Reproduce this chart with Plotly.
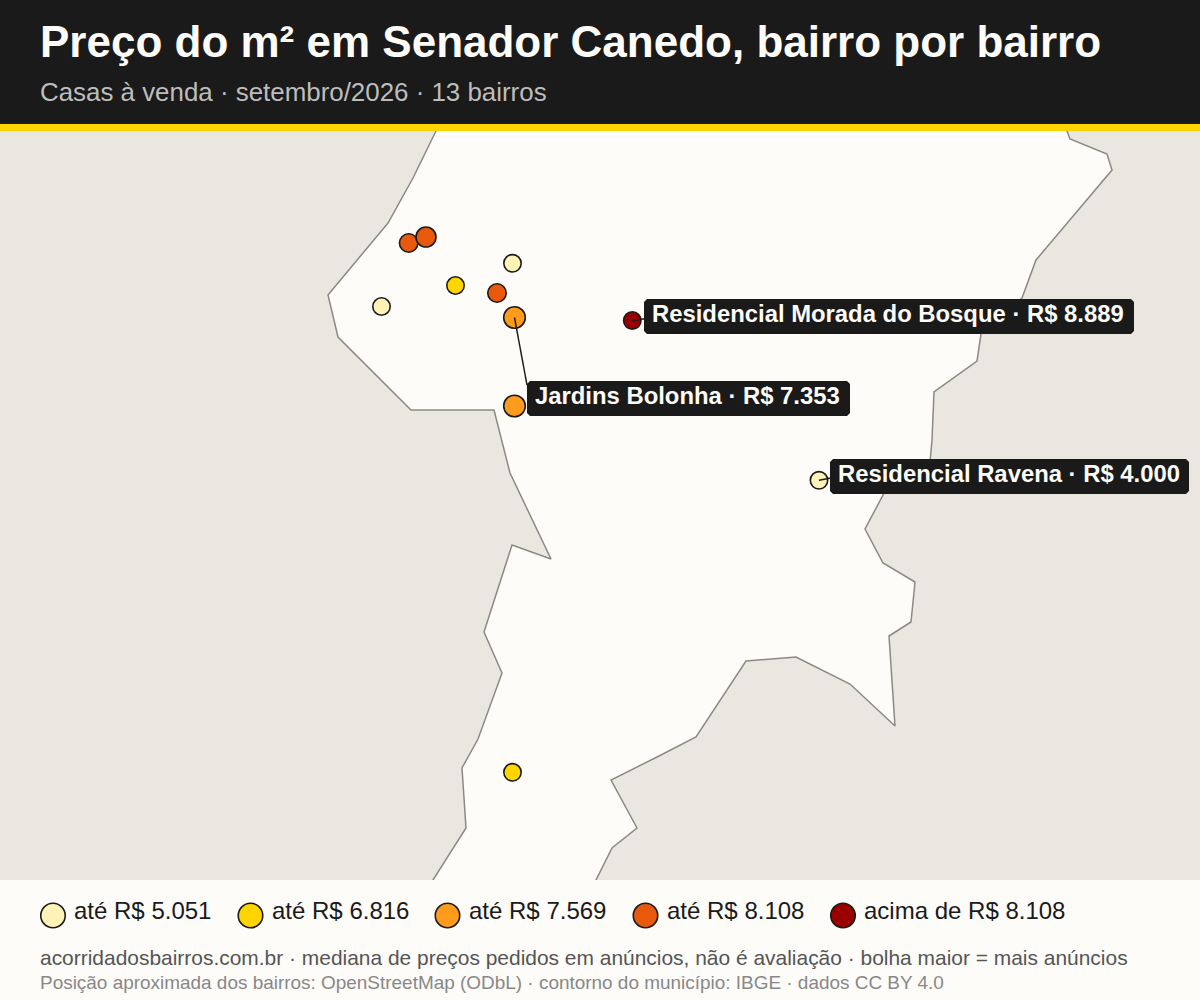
#!/usr/bin/env python3
# -*- coding: utf-8 -*-
import plotly.graph_objects as go

# contorno do municipio (coordenadas do mapa)
contorno_x = [441, 436, 413, 388, 328, 338, 411, 494, 510, 537, 551, 512, 484, 502, 478, 462, 466, 433, 425,
              590, 596, 612, 637, 611, 659, 696, 746, 796, 850, 895, 889, 911, 915, 883, 865, 891, 930, 932, 934,
              977, 981, 1022, 1036, 1112, 1107, 1070, 1067, 1062]
contorno_y = [120, 131, 178, 223, 295, 337, 410, 410, 473, 530, 559, 545, 632, 673, 739, 768, 828, 880, 892,
              892, 880, 848, 828, 780, 756, 737, 661, 657, 684, 726, 636, 622, 582, 563, 529, 480, 462, 440, 392,
              361, 334, 298, 260, 170, 154, 139, 131, 120]

# bairros
bairro_x = [408.7, 426, 512.5, 455.5, 497, 381.5, 514.5, 632.3, 514.5, 819, 512.5]
bairro_y = [243, 237, 263.3, 285.5, 293, 306.5, 317.5, 320.5, 406, 480.3, 772.3]
bairro_faixa = [3, 3, 0, 1, 3, 0, 2, 4, 2, 0, 1]
bairro_anuncios = [77, 90, 68, 68, 77, 68, 105, 68, 105, 68, 68]

# faixas de preco
faixa_nomes = ["até R$ 5.051", "até R$ 6.816", "até R$ 7.569", "até R$ 8.108", "acima de R$ 8.108"]
faixa_cores = ["#FFF3B8", "#FFD500", "#FE9A1C", "#E8590C", "#9B0000"]
legenda_x = [53, 250.5, 447.5, 645.5, 843]
legenda_y = [915.5, 915.5, 915.5, 915.5, 915.5]

# rotulos em destaque
rotulo_textos = ["Residencial Morada do Bosque · R$ 8.889", "Jardins Bolonha · R$ 7.353", "Residencial Ravena · R$ 4.000"]
rotulo_ponto_x = [632.3, 514.5, 819]
rotulo_ponto_y = [320.5, 317.5, 480.3]
rotulo_fim_x = [645, 527, 831]
rotulo_fim_y = [318.7, 385, 478]
rotulo_caixa = [[644, 1134, 299, 334], [527, 850, 381, 416], [830, 1189, 459, 494]]

escuro = "#1A1A1A"
papel = "#FDFCF9"
terra = "#EAE7E0"
fonte = "Liberation Sans"

fig = go.Figure()

# municipio
fig.add_trace(go.Scatter(x=contorno_x, y=contorno_y, mode="lines", fill="toself", fillcolor=papel,
                         line=dict(color="#8A8A85", width=1.5), hoverinfo="skip", showlegend=False))
# bolhas
fig.add_trace(go.Scatter(x=bairro_x, y=bairro_y, mode="markers", showlegend=False,
                         marker=dict(size=bairro_anuncios, sizemode="area", sizeref=0.45, opacity=1,
                                     color=[faixa_cores[f] for f in bairro_faixa],
                                     line=dict(color=escuro, width=1.6))))
# linhas dos rotulos
for i in range(len(rotulo_textos)):
    fig.add_trace(go.Scatter(x=[rotulo_ponto_x[i], rotulo_fim_x[i]], y=[rotulo_ponto_y[i], rotulo_fim_y[i]],
                             mode="lines", line=dict(color=escuro, width=1.4), hoverinfo="skip", showlegend=False))

# legenda, em eixos proprios
fig.add_trace(go.Scatter(x=legenda_x, y=legenda_y, xaxis="x2", yaxis="y2", mode="markers", showlegend=False,
                         marker=dict(size=24.5, color=faixa_cores, opacity=1, line=dict(color=escuro, width=1.6))))

formas = [
    dict(type="rect", xref="x domain", yref="y domain", x0=0, x1=1, y0=0, y1=1, fillcolor=terra, line_width=0, layer="below"),
    dict(type="rect", xref="x2", yref="y2", x0=0, x1=1200, y0=0, y1=124, fillcolor=escuro, line_width=0),
    dict(type="rect", xref="x2", yref="y2", x0=0, x1=1200, y0=124, y1=131, fillcolor="#FFD400", line_width=0),
]
notas = []
for i in range(len(rotulo_textos)):
    x0, x1, y0, y1 = rotulo_caixa[i]
    c = 3
    caminho = f"M{x0+c},{y0} L{x1-c},{y0} L{x1},{y0+c} L{x1},{y1-c} L{x1-c},{y1} L{x0+c},{y1} L{x0},{y1-c} L{x0},{y0+c} Z"
    formas.append(dict(type="path", xref="x", yref="y", path=caminho, fillcolor=escuro, line_width=0))
    notas.append(dict(x=x0 + 7, y=(y0 + y1) / 2 - 3, text="<b>" + rotulo_textos[i] + "</b>",
                      font=dict(size=23.85, color=papel)))

notas.append(dict(x=39, y=41.5, text="<b>Preço do m² em Senador Canedo, bairro por bairro</b>", font=dict(size=44, color=papel)))
notas.append(dict(x=39, y=92, text="Casas à venda · setembro/2026 · 13 bairros", font=dict(size=25.9, color="#BDBDBD")))
for i in range(len(faixa_nomes)):
    notas.append(dict(x=legenda_x[i] + 20, y=910, text=faixa_nomes[i], font=dict(size=24, color=escuro)))
notas.append(dict(x=39, y=957, text="acorridadosbairros.com.br · mediana de preços pedidos em anúncios, não é avaliação · bolha maior = mais anúncios",
                  font=dict(size=20.95, color="#555555")))
notas.append(dict(x=39, y=982, text="Posição aproximada dos bairros: OpenStreetMap (ODbL) · contorno do município: IBGE · dados CC BY 4.0",
                  font=dict(size=18.95, color="#888888")))
for n in notas[:3]:
    n.update(xref="x", yref="y")
for n in notas[3:]:
    n.update(xref="x2", yref="y2")
for n in notas:
    n.update(showarrow=False, xanchor="left", yanchor="middle", borderpad=0)

fig.update_layout(
    width=1200, height=1000, margin=dict(l=0, r=0, t=0, b=0), autosize=False,
    paper_bgcolor=papel, plot_bgcolor="rgba(0,0,0,0)", font=dict(family=fonte), showlegend=False,
    xaxis=dict(domain=[0, 1], range=[0, 1200], visible=False),
    yaxis=dict(domain=[0.12, 0.869], range=[880, 131], visible=False),
    xaxis2=dict(domain=[0, 1], range=[0, 1200], visible=False, anchor="y2"),
    yaxis2=dict(domain=[0, 1], range=[1000, 0], visible=False, anchor="x2"),
    shapes=formas, annotations=notas,
)

fig.write_html("out.html", config=dict(displayModeBar=False),
               post_script="document.body.style.margin='0';")
